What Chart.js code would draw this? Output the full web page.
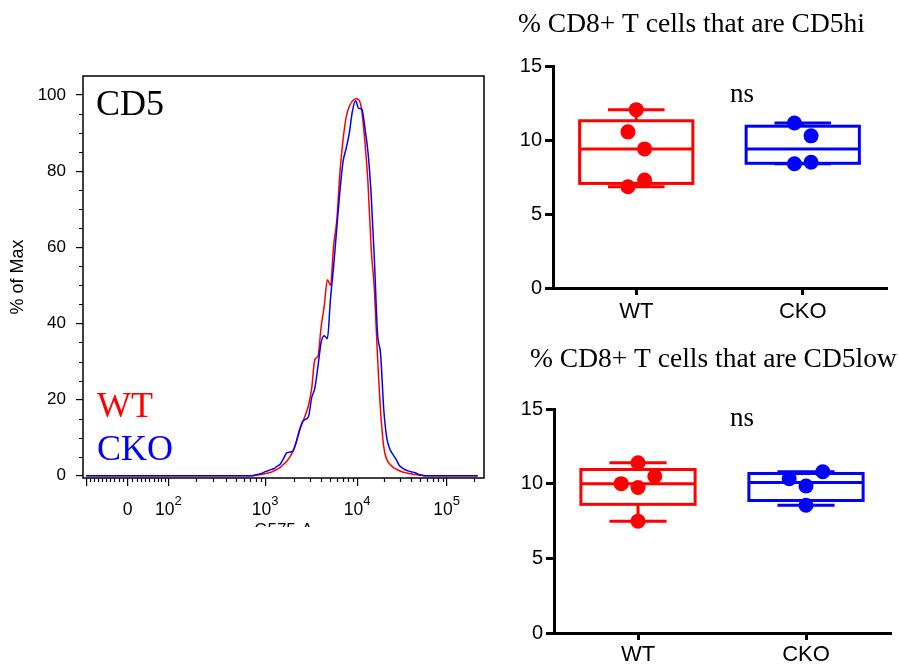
<!DOCTYPE html>
<html>
<head>
<meta charset="utf-8">
<script src="https://cdn.jsdelivr.net/npm/chart.js@4.4.1/dist/chart.umd.min.js"></script>
<style>
  html, body { margin: 0; padding: 0; background: #fff; width: 899px; height: 667px; overflow: hidden; }
  .panel { position: absolute; }
  canvas { display: block; }
  #histWrap { left: 0; top: 55px; width: 495px; height: 472px; overflow: hidden; }
</style>
</head>
<body>
<div id="histWrap" class="panel"><canvas id="hist" width="495" height="500"></canvas></div>
<canvas id="boxHi" class="panel" style="left:500px; top:0px;" width="399" height="330"></canvas>
<canvas id="boxLow" class="panel" style="left:500px; top:340px;" width="399" height="327"></canvas>
<script>
// ---------------- data ----------------
// CD5 histogram, % of max per display bin (128 bins across the logicle axis, bins 1..126)
const wtHist = [
  0,0,0,0,0,0,0,0,0,0, 0,0,0,0,0,0,0,0,0,0, 0,0,0,0,0,0,0,0,0,0,
  0,0,0,0,0,0,0,0,0,0, 0,0,0,0,0,0,0,0,0,0, 0,0,0,0,
  0.1,0.2,0.35,0.5,0.7,0.9,1.3,1.7,2.2,3.0,
  3.8,4.9,6.4,8.6,11.8,13.8,16.0,18.5,23.0,30.5,
  31.4,39.0,44.6,51.5,50.0,60.5,67.0,79.5,88.2,94.2,
  97.0,98.4,99.0,98.8,95.8,87.5,76.4,59.5,49.0,31.5,
  16.8,7.6,4.2,3.0,2.2,1.7,1.3,1.0,0.8,0.6,
  0.45,0.3,0.2,0.1,
  0,0,0,0,0,0,0,0,0,0, 0,0,0,0,0,0,0,0
];
const ckoHist = [
  0,0,0,0,0,0,0,0,0,0, 0,0,0,0,0,0,0,0,0,0, 0,0,0,0,0,0,0,0,0,0,
  0,0,0,0,0,0,0,0,0,0, 0,0,0,0,0,0,0,0,0,0, 0,0,0,0,
  0.2,0.4,0.6,1.0,1.3,1.6,1.9,2.5,3.1,4.5,
  6.0,6.2,6.5,8.7,11.5,14.1,14.8,15.6,20.5,23.0,
  28.7,35.0,36.8,36.0,46.5,55.0,65.0,74.7,82.5,86.0,
  90.0,95.8,98.5,96.5,96.3,91.3,84.7,73.5,57.0,37.5,
  31.9,17.4,9.8,6.9,5.5,4.2,2.7,2.0,1.5,1.2,
  1.0,0.8,0.4,0.2,
  0,0,0,0,0,0,0,0,0,0, 0,0,0,0,0,0,0,0
];
const binsPerAxis = 128;

const pctTicks = [0, 20, 40, 60, 80, 100];
const fluorMajor = [-100, 0, 100, 1000, 10000, 100000];
const fluorMajorLabels = ['', '0', '10²', '10³', '10⁴', '10⁵'];

// % CD8+ T cells, one value per mouse (listed in replicate order)
const groups = ['WT', 'CKO'];
const cd5hiWT = [12.05, 10.55, 9.4, 6.84, 7.29];
const cd5hiCKO = [11.15, 10.28, 8.4, 8.5];
const cd5lowWT = [11.4, 9.74, 10.0, 10.5, 7.49];
const cd5lowCKO = [9.84, 10.33, 10.8, 8.55];
const boxTicks = [0, 5, 10, 15];

// ---------------- styling ----------------
const RED = '#ff0000';
const BLUE = '#0000ff';
const SANS = 'Arial, "Liberation Sans", sans-serif';
const SERIF = '"Times New Roman", "Liberation Serif", serif';
Chart.defaults.font.family = SANS;
Chart.defaults.color = '#000';

// ---------------- logicle (biexponential) display transform ----------------
const LOGICLE = { T: 262144, M: 4.5, W: 0.5 };
const LOGICLE_P = (() => {
  let lo = 1.0001, hi = 100;
  for (let i = 0; i < 100; i++) {
    const mid = (lo + hi) / 2;
    const w = 2 * mid * Math.log10(mid) / (mid + 1);
    if (w > LOGICLE.W) hi = mid; else lo = mid;
  }
  return (lo + hi) / 2;
})();
function logicleValue(x) {
  const { T, M, W } = LOGICLE;
  if (x < W) return -logicleValue(2 * W - x);
  const z = x - W, p = LOGICLE_P;
  return T * Math.pow(10, -(M - W)) * (Math.pow(10, z) - p * p * Math.pow(10, -z / p) + p * p - 1);
}
function logicleX(v) {
  let lo = -1, hi = LOGICLE.M + 1;
  for (let i = 0; i < 80; i++) {
    const mid = (lo + hi) / 2;
    if (logicleValue(mid) < v) lo = mid; else hi = mid;
  }
  return (lo + hi) / 2;
}
// minor tick values: linear steps near zero, 2..9 within each decade above
const fluorMinor = [];
for (let v = -90; v <= 90; v += 10) if (v !== 0) fluorMinor.push(v);
for (const dec of [100, 1000, 10000, 100000]) {
  for (let m = 2; m <= 9; m++) if (dec * m <= LOGICLE.T) fluorMinor.push(dec * m);
}

function histPoints(values) {
  const step = LOGICLE.M / binsPerAxis;
  return values.map((v, i) => ({ x: (i + 1) * step, y: v }));
}

const SUPERSCRIPTS = '⁰¹²³⁴⁵⁶⁷⁸⁹';
function splitPower(label) {
  let base = '', exp = '';
  for (const ch of label) {
    const k = SUPERSCRIPTS.indexOf(ch);
    if (k >= 0) exp += String(k); else base += ch;
  }
  return { base, exp };
}

// ---------------- histogram panel ----------------
const histDecor = {
  id: 'histDecor',
  beforeDatasetsDraw(chart) {
    const { ctx, chartArea: a, scales: { x, y } } = chart;
    ctx.save();
    ctx.strokeStyle = '#000';
    ctx.lineWidth = 1.5;
    ctx.strokeRect(a.left, a.top, a.right - a.left, a.bottom - a.top);
    ctx.lineWidth = 1.2;
    ctx.beginPath();
    for (const v of fluorMinor) {
      const px = Math.round(x.getPixelForValue(logicleX(v))) + 0.5;
      ctx.moveTo(px, a.bottom);
      ctx.lineTo(px, a.bottom + 4);
    }
    for (let v = 5; v < 105; v += 5) {
      if (pctTicks.includes(v)) continue;
      const py = Math.round(y.getPixelForValue(v)) + 0.5;
      ctx.moveTo(a.left - 4, py);
      ctx.lineTo(a.left, py);
    }
    ctx.stroke();

    // decade labels with raised exponents
    ctx.fillStyle = '#000';
    ctx.textBaseline = 'alphabetic';
    ctx.textAlign = 'left';
    const baseY = a.bottom + 37;
    const baseFont = '17.5px ' + SANS, expFont = '13px ' + SANS;
    fluorMajor.forEach((v, i) => {
      const { base, exp } = splitPower(fluorMajorLabels[i]);
      if (!base) return;
      const px = x.getPixelForValue(logicleX(v));
      ctx.font = baseFont;
      const wb = ctx.measureText(base).width;
      ctx.font = expFont;
      const we = exp ? ctx.measureText(exp).width : 0;
      const x0 = px - (wb + we) / 2;
      ctx.font = baseFont;
      ctx.fillText(base, x0, baseY);
      if (exp) {
        ctx.font = expFont;
        ctx.fillText(exp, x0 + wb, baseY - 10);
      }
    });
    ctx.restore();
  },
  afterDatasetsDraw(chart) {
    const { ctx, chartArea: a } = chart;
    ctx.save();
    ctx.font = '36px ' + SERIF;
    ctx.textBaseline = 'alphabetic';
    ctx.textAlign = 'left';
    ctx.fillStyle = '#000';
    ctx.fillText('CD5', a.left + 13, a.top + 39);
    ctx.fillStyle = RED;
    ctx.fillText('WT', a.left + 14, a.bottom - 61);
    ctx.fillStyle = BLUE;
    ctx.fillText('CKO', a.left + 14, a.bottom - 18);
    ctx.restore();
  }
};

new Chart(document.getElementById('hist'), {
  type: 'line',
  data: {
    datasets: [
      { label: 'CKO', data: histPoints(ckoHist), borderColor: BLUE, order: 0 },
      { label: 'WT', data: histPoints(wtHist), borderColor: RED, order: 1 }
    ]
  },
  options: {
    responsive: false,
    animation: false,
    layout: { padding: { left: 0, top: 21, right: 11, bottom: 14 } },
    elements: {
      point: { radius: 0, hoverRadius: 0 },
      line: { borderWidth: 1.5, cubicInterpolationMode: 'monotone', fill: false }
    },
    plugins: { legend: { display: false }, tooltip: { enabled: false } },
    scales: {
      x: {
        type: 'linear', min: 0, max: LOGICLE.M,
        afterBuildTicks: s => { s.ticks = fluorMajor.map(v => ({ value: logicleX(v) })); },
        afterFit: s => { s.height = 63; },
        ticks: { display: false, callback: (v, i) => fluorMajorLabels[i], autoSkip: false, maxRotation: 0 },
        grid: { drawOnChartArea: false, drawTicks: true, tickLength: 8, color: '#000', lineWidth: 1.2 },
        border: { display: false },
        title: { display: true, text: 'G575-A', font: { size: 17 }, padding: { top: 0, bottom: 0 } }
      },
      y: {
        min: -0.6, max: 105,
        afterBuildTicks: s => { s.ticks = pctTicks.map(v => ({ value: v })); },
        afterFit: s => { s.width = 83; },
        ticks: { font: { size: 17 }, padding: 10 },
        grid: { drawOnChartArea: false, tickLength: 7, color: '#000', lineWidth: 1.2 },
        border: { display: false },
        title: { display: true, text: '% of Max', font: { size: 18 }, padding: { top: 7, bottom: 0 } }
      }
    }
  },
  plugins: [histDecor]
});

// ---------------- box-and-whisker panels ----------------
// quartiles with the (n+1)p rule
function quantile(sorted, p) {
  const n = sorted.length, pos = (n + 1) * p;
  if (pos <= 1) return sorted[0];
  if (pos >= n) return sorted[n - 1];
  const lo = Math.floor(pos), f = pos - lo;
  return sorted[lo - 1] + f * (sorted[lo] - sorted[lo - 1]);
}
function summary(values) {
  const s = [...values].sort((a, b) => a - b);
  return { min: s[0], q1: quantile(s, 0.25), med: quantile(s, 0.5), q3: quantile(s, 0.75), max: s[s.length - 1] };
}
// spread points that share a value row side by side
function swarmOffsets(values, rowHeight, rowOrigin, step) {
  const rows = new Map();
  values.forEach((v, i) => {
    const r = Math.floor((v - rowOrigin) / rowHeight);
    if (!rows.has(r)) rows.set(r, []);
    rows.get(r).push(i);
  });
  const out = new Array(values.length).fill(0);
  rows.forEach(idx => {
    const n = idx.length;
    idx.forEach((id, j) => {
      let slot;
      if (n % 2 === 1) slot = j === 0 ? 0 : (j % 2 === 1 ? -Math.ceil(j / 2) : Math.ceil(j / 2));
      else { const k = Math.floor(j / 2) + 0.5; slot = j % 2 === 0 ? -k : k; }
      out[id] = slot * step;
    });
  });
  return out;
}

function makeBoxPlugin(series, texts) {
  return {
    id: 'boxWhisker',
    beforeDatasetsDraw(chart) {
      const { ctx, scales: { x, y } } = chart;
      ctx.save();
      ctx.lineWidth = 3;
      ctx.lineJoin = 'miter';
      series.forEach((g, i) => {
        const s = summary(g.values);
        const cx = x.getPixelForValue(i);
        const half = x.getPixelForValue(i + 0.34) - cx;
        const cap = x.getPixelForValue(i + 0.17) - cx;
        const yq1 = y.getPixelForValue(s.q1), yq3 = y.getPixelForValue(s.q3);
        const ymed = y.getPixelForValue(s.med);
        const ymin = y.getPixelForValue(s.min), ymax = y.getPixelForValue(s.max);
        ctx.strokeStyle = g.color;
        ctx.strokeRect(cx - half, yq3, 2 * half, yq1 - yq3);
        ctx.beginPath();
        ctx.moveTo(cx - half, ymed); ctx.lineTo(cx + half, ymed);
        ctx.moveTo(cx, yq3); ctx.lineTo(cx, ymax);
        ctx.moveTo(cx - cap, ymax); ctx.lineTo(cx + cap, ymax);
        ctx.moveTo(cx, yq1); ctx.lineTo(cx, ymin);
        ctx.moveTo(cx - cap, ymin); ctx.lineTo(cx + cap, ymin);
        ctx.stroke();
      });
      ctx.restore();
    },
    afterDraw(chart) {
      const { ctx } = chart;
      ctx.save();
      ctx.fillStyle = '#000';
      ctx.textBaseline = 'alphabetic';
      ctx.textAlign = 'left';
      ctx.font = '27.5px ' + SERIF;
      ctx.fillText(texts.title, texts.titleX, texts.titleY);
      ctx.font = '27px ' + SERIF;
      ctx.fillText('ns', texts.nsX, texts.nsY);
      ctx.restore();
    }
  };
}

function boxPanel(canvasId, wtVals, ckoVals, geom, texts) {
  const series = [
    { label: groups[0], values: wtVals, color: RED },
    { label: groups[1], values: ckoVals, color: BLUE }
  ];
  const datasets = series.map((g, i) => {
    const offs = swarmOffsets(g.values, 1.9, 1.75, 0.1);
    return {
      label: g.label,
      data: g.values.map((v, j) => ({ x: i + offs[j], y: v })),
      backgroundColor: g.color,
      borderColor: g.color,
      pointRadius: 7.5,
      pointHoverRadius: 7.5,
      pointBorderWidth: 0
    };
  });
  new Chart(document.getElementById(canvasId), {
    type: 'scatter',
    data: { datasets },
    options: {
      responsive: false,
      animation: false,
      layout: { padding: { left: 0, top: geom.padTop, right: geom.padRight, bottom: 0 } },
      plugins: { legend: { display: false }, tooltip: { enabled: false } },
      scales: {
        x: {
          type: 'linear', min: -0.5, max: 1.5,
          afterBuildTicks: s => { s.ticks = groups.map((g, i) => ({ value: i })); },
          afterFit: s => { s.height = geom.xHeight; },
          ticks: { callback: (v, i) => groups[i], font: { size: 22 }, padding: geom.labelPad, autoSkip: false, maxRotation: 0 },
          grid: { drawOnChartArea: false, tickLength: 7, lineWidth: 3, color: '#000' },
          border: { width: 3, color: '#000' }
        },
        y: {
          min: 0, max: 15,
          afterBuildTicks: s => { s.ticks = boxTicks.map(v => ({ value: v })); },
          afterFit: s => { s.width = geom.yWidth; },
          ticks: { font: { size: 20 }, padding: 3 },
          grid: { drawOnChartArea: false, tickLength: 8, lineWidth: 3, color: '#000' },
          border: { width: 3, color: '#000' }
        }
      }
    },
    plugins: [makeBoxPlugin(series, texts)]
  });
}

boxPanel('boxHi', cd5hiWT, cd5hiCKO,
  { padTop: 66, padRight: 13, yWidth: 53, xHeight: 42, labelPad: 4 },
  { title: '% CD8+ T cells that are CD5hi', titleX: 18, titleY: 32, nsX: 230, nsY: 102 });

boxPanel('boxLow', cd5lowWT, cd5lowCKO,
  { padTop: 69, padRight: 9, yWidth: 54, xHeight: 34, labelPad: 2 },
  { title: '% CD8+ T cells that are CD5low', titleX: 30, titleY: 27, nsX: 230, nsY: 86 });
</script>
</body>
</html>
